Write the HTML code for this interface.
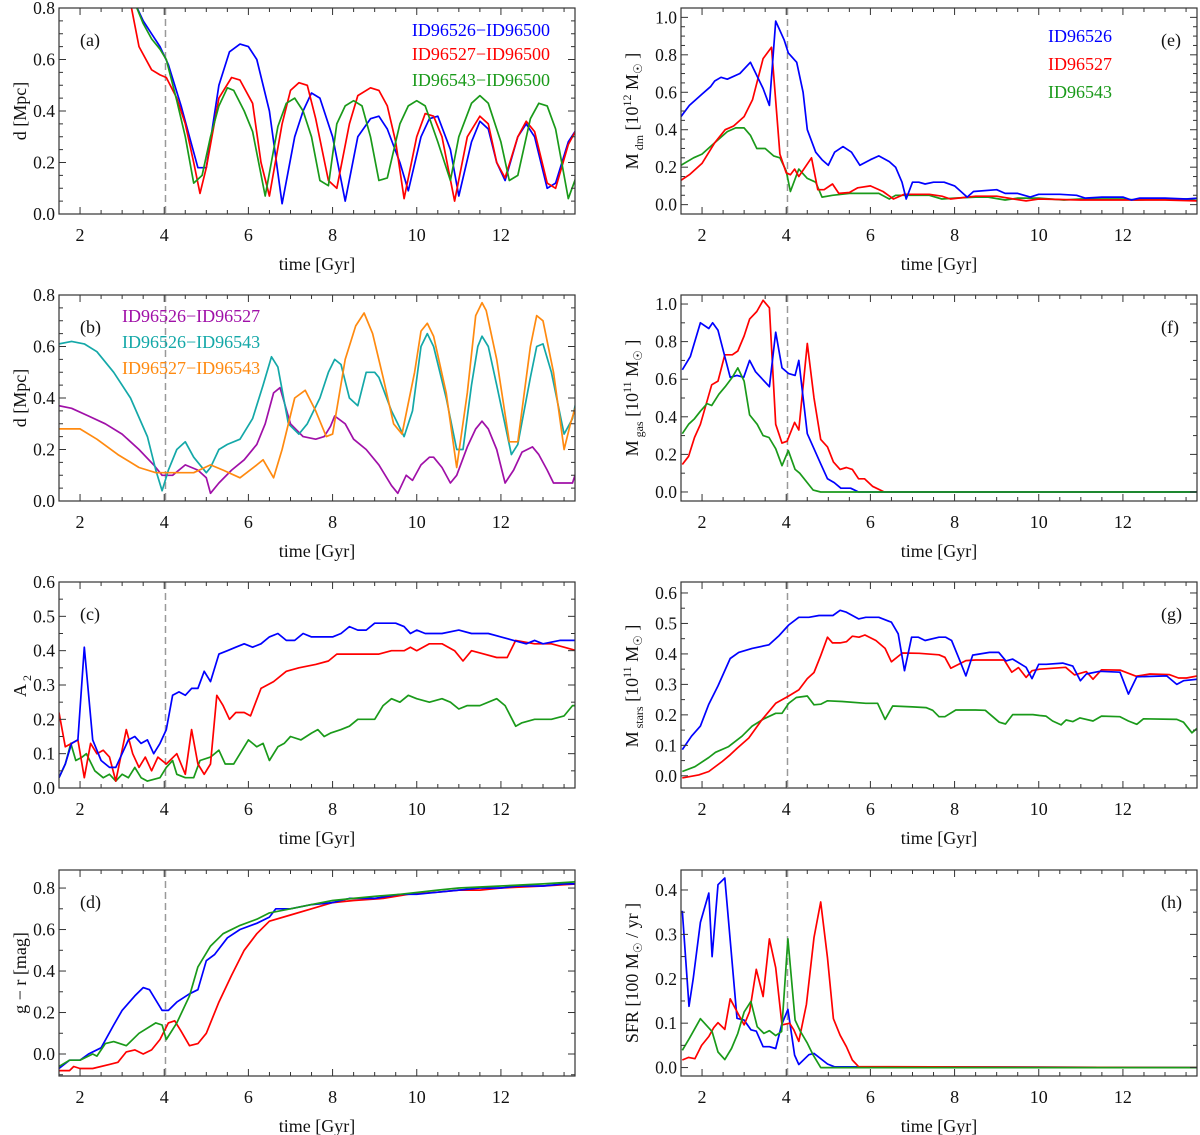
<!DOCTYPE html>
<html><head><meta charset="utf-8"><style>
html,body{margin:0;padding:0;background:#fff}
svg{display:block;font-family:"Liberation Serif",serif}
</style></head><body>
<svg id="fig" width="1200" height="1135" viewBox="0 0 1200 1135" xmlns="http://www.w3.org/2000/svg"></svg>
<script>
// ---- data: [time Gyr, value] ----
const aBlue=[[3.3,0.82],[3.5,0.75],[3.7,0.7],[3.9,0.65],[4.1,0.58],[4.4,0.42],[4.6,0.3],[4.8,0.18],[5.0,0.18],[5.3,0.5],[5.55,0.63],[5.8,0.66],[6.0,0.65],[6.2,0.6],[6.5,0.4],[6.8,0.04],[7.1,0.3],[7.3,0.4],[7.5,0.47],[7.7,0.45],[8.0,0.3],[8.3,0.05],[8.6,0.3],[8.9,0.37],[9.1,0.38],[9.3,0.33],[9.6,0.2],[9.8,0.09],[10.1,0.3],[10.3,0.37],[10.5,0.38],[10.8,0.25],[11.0,0.07],[11.3,0.28],[11.5,0.36],[11.7,0.33],[11.9,0.2],[12.1,0.13],[12.4,0.3],[12.6,0.35],[12.8,0.3],[13.1,0.1],[13.3,0.12],[13.6,0.28],[13.8,0.33]];
const aRed=[[3.2,0.82],[3.4,0.65],[3.7,0.56],[3.9,0.54],[4.05,0.53],[4.3,0.45],[4.5,0.35],[4.7,0.2],[4.85,0.08],[5.0,0.18],[5.3,0.45],[5.6,0.53],[5.8,0.52],[6.1,0.43],[6.3,0.2],[6.5,0.07],[6.8,0.35],[7.0,0.48],[7.2,0.51],[7.4,0.5],[7.6,0.37],[7.9,0.13],[8.1,0.1],[8.4,0.35],[8.6,0.46],[8.9,0.49],[9.1,0.48],[9.3,0.42],[9.5,0.28],[9.7,0.06],[10.0,0.3],[10.2,0.39],[10.4,0.38],[10.6,0.3],[10.9,0.05],[11.2,0.3],[11.5,0.38],[11.7,0.35],[11.9,0.2],[12.1,0.14],[12.4,0.3],[12.6,0.36],[12.8,0.32],[13.1,0.12],[13.3,0.1],[13.6,0.27],[13.8,0.33]];
const aGreen=[[3.3,0.82],[3.5,0.74],[3.7,0.68],[3.9,0.64],[4.05,0.6],[4.3,0.44],[4.5,0.3],[4.7,0.12],[4.9,0.15],[5.1,0.3],[5.3,0.42],[5.5,0.49],[5.65,0.48],[5.9,0.4],[6.1,0.32],[6.4,0.07],[6.7,0.34],[6.9,0.43],[7.1,0.45],[7.3,0.4],[7.5,0.3],[7.7,0.13],[7.9,0.11],[8.1,0.35],[8.3,0.42],[8.5,0.44],[8.7,0.42],[8.9,0.3],[9.1,0.13],[9.3,0.14],[9.6,0.35],[9.8,0.42],[10.0,0.44],[10.2,0.42],[10.5,0.28],[10.8,0.13],[11.0,0.3],[11.3,0.43],[11.5,0.46],[11.7,0.43],[12.0,0.28],[12.2,0.13],[12.4,0.15],[12.7,0.37],[12.9,0.43],[13.1,0.42],[13.3,0.33],[13.6,0.06],[13.8,0.15]];
const bPurple=[[1.5,0.37],[1.8,0.36],[2.2,0.33],[2.6,0.3],[3.0,0.26],[3.4,0.2],[3.75,0.14],[3.95,0.1],[4.2,0.1],[4.5,0.14],[4.8,0.12],[5.0,0.09],[5.1,0.03],[5.3,0.07],[5.6,0.12],[5.9,0.16],[6.2,0.22],[6.4,0.3],[6.6,0.42],[6.75,0.44],[7.0,0.3],[7.3,0.25],[7.6,0.24],[7.8,0.25],[7.95,0.29],[8.05,0.33],[8.3,0.3],[8.5,0.24],[8.8,0.2],[9.1,0.14],[9.4,0.06],[9.55,0.03],[9.75,0.1],[9.9,0.08],[10.1,0.14],[10.3,0.17],[10.4,0.17],[10.6,0.13],[10.8,0.07],[10.95,0.1],[11.2,0.21],[11.4,0.28],[11.55,0.31],[11.7,0.28],[11.9,0.2],[12.1,0.07],[12.3,0.12],[12.5,0.19],[12.75,0.21],[12.9,0.18],[13.1,0.12],[13.25,0.07],[13.45,0.07],[13.7,0.07],[13.8,0.12]];
const bCyan=[[1.5,0.61],[1.8,0.62],[2.1,0.61],[2.4,0.58],[2.8,0.5],[3.2,0.4],[3.6,0.25],[3.8,0.12],[3.95,0.04],[4.1,0.12],[4.3,0.2],[4.5,0.23],[4.7,0.17],[5.0,0.11],[5.1,0.13],[5.3,0.2],[5.5,0.22],[5.8,0.24],[6.1,0.32],[6.35,0.45],[6.55,0.56],[6.7,0.52],[6.95,0.3],[7.2,0.26],[7.4,0.3],[7.7,0.4],[7.9,0.5],[8.05,0.55],[8.2,0.53],[8.4,0.4],[8.6,0.37],[8.8,0.5],[9.0,0.5],[9.1,0.48],[9.4,0.35],[9.7,0.25],[9.9,0.35],[10.1,0.6],[10.25,0.65],[10.4,0.6],[10.7,0.4],[10.95,0.2],[11.1,0.2],[11.3,0.45],[11.45,0.6],[11.55,0.64],[11.7,0.6],[11.9,0.45],[12.25,0.18],[12.4,0.22],[12.7,0.48],[12.85,0.6],[13.0,0.61],[13.2,0.5],[13.5,0.26],[13.7,0.32],[13.8,0.4]];
const bOrange=[[1.5,0.28],[2.0,0.28],[2.4,0.24],[2.9,0.18],[3.4,0.13],[3.8,0.11],[4.5,0.11],[4.7,0.11],[5.1,0.14],[5.4,0.12],[5.8,0.09],[6.2,0.14],[6.35,0.16],[6.6,0.09],[6.8,0.2],[7.1,0.4],[7.35,0.43],[7.6,0.35],[7.85,0.25],[8.0,0.26],[8.3,0.55],[8.55,0.68],[8.75,0.73],[8.95,0.65],[9.2,0.48],[9.45,0.3],[9.65,0.26],[9.95,0.5],[10.1,0.66],[10.25,0.69],[10.4,0.64],[10.7,0.42],[10.95,0.13],[11.2,0.42],[11.4,0.72],[11.55,0.77],[11.65,0.74],[11.9,0.55],[12.2,0.23],[12.4,0.23],[12.7,0.6],[12.85,0.72],[13.0,0.7],[13.25,0.5],[13.5,0.2],[13.65,0.3],[13.8,0.38]];
const cBlue=[[1.5,0.03],[1.65,0.07],[1.8,0.13],[1.95,0.14],[2.1,0.41],[2.3,0.14],[2.5,0.08],[2.7,0.06],[2.85,0.06],[3.0,0.1],[3.15,0.14],[3.3,0.15],[3.45,0.13],[3.6,0.14],[3.75,0.1],[3.9,0.13],[4.05,0.17],[4.2,0.27],[4.35,0.28],[4.5,0.27],[4.65,0.29],[4.8,0.29],[4.95,0.34],[5.1,0.31],[5.3,0.39],[5.5,0.4],[5.7,0.41],[5.9,0.42],[6.1,0.41],[6.3,0.42],[6.5,0.44],[6.7,0.45],[6.9,0.43],[7.1,0.43],[7.3,0.45],[7.5,0.44],[7.8,0.44],[8.0,0.44],[8.2,0.45],[8.4,0.47],[8.6,0.46],[8.8,0.46],[9.0,0.48],[9.2,0.48],[9.5,0.48],[9.7,0.47],[9.85,0.45],[10.0,0.46],[10.2,0.45],[10.6,0.45],[11.0,0.46],[11.3,0.45],[11.7,0.45],[12.0,0.44],[12.3,0.43],[12.6,0.42],[12.8,0.43],[13.0,0.42],[13.4,0.43],[13.8,0.43]];
const cRed=[[1.5,0.22],[1.65,0.12],[1.8,0.13],[1.95,0.14],[2.1,0.03],[2.25,0.13],[2.4,0.1],[2.55,0.11],[2.7,0.09],[2.85,0.02],[3.1,0.17],[3.25,0.1],[3.4,0.06],[3.55,0.09],[3.7,0.05],[3.85,0.09],[4.05,0.07],[4.3,0.1],[4.5,0.04],[4.65,0.17],[4.8,0.07],[4.95,0.04],[5.1,0.07],[5.25,0.27],[5.4,0.24],[5.55,0.2],[5.7,0.22],[5.9,0.22],[6.05,0.21],[6.3,0.29],[6.6,0.31],[6.9,0.34],[7.2,0.35],[7.6,0.36],[7.9,0.37],[8.1,0.39],[8.4,0.39],[8.8,0.39],[9.1,0.39],[9.4,0.4],[9.7,0.4],[9.85,0.41],[10.0,0.4],[10.3,0.42],[10.6,0.42],[10.9,0.4],[11.1,0.37],[11.3,0.4],[11.6,0.39],[11.9,0.38],[12.15,0.38],[12.35,0.43],[12.8,0.42],[13.2,0.42],[13.5,0.41],[13.8,0.4]];
const cGreen=[[1.5,0.03],[1.65,0.07],[1.78,0.13],[1.9,0.08],[2.05,0.09],[2.15,0.1],[2.35,0.05],[2.55,0.03],[2.7,0.04],[2.85,0.02],[3.0,0.04],[3.15,0.03],[3.3,0.06],[3.45,0.03],[3.6,0.02],[3.9,0.03],[4.05,0.06],[4.2,0.08],[4.3,0.04],[4.5,0.03],[4.7,0.03],[4.85,0.08],[5.1,0.09],[5.3,0.11],[5.45,0.07],[5.65,0.07],[5.8,0.1],[6.0,0.14],[6.2,0.12],[6.35,0.13],[6.5,0.08],[6.7,0.12],[6.85,0.13],[7.0,0.15],[7.25,0.14],[7.5,0.16],[7.65,0.17],[7.8,0.15],[7.95,0.16],[8.2,0.17],[8.4,0.18],[8.6,0.2],[9.0,0.2],[9.2,0.24],[9.4,0.26],[9.6,0.25],[9.8,0.27],[10.0,0.26],[10.3,0.25],[10.6,0.26],[10.8,0.25],[11.0,0.23],[11.2,0.24],[11.5,0.24],[11.9,0.26],[12.1,0.24],[12.35,0.18],[12.5,0.19],[12.8,0.2],[13.0,0.2],[13.2,0.2],[13.5,0.21],[13.7,0.24],[13.8,0.24]];
const dBlue=[[1.5,-0.07],[1.75,-0.03],[2.0,-0.03],[2.2,0.0],[2.5,0.03],[2.8,0.14],[3.0,0.21],[3.3,0.28],[3.5,0.32],[3.65,0.31],[3.95,0.21],[4.1,0.21],[4.3,0.25],[4.6,0.29],[4.8,0.31],[5.0,0.45],[5.2,0.48],[5.5,0.56],[5.8,0.6],[6.2,0.63],[6.5,0.66],[6.65,0.7],[7.0,0.7],[7.5,0.72],[8.0,0.73],[8.4,0.75],[9.0,0.75],[9.6,0.77],[10.0,0.77],[10.5,0.78],[11.0,0.79],[11.5,0.8],[12.0,0.8],[12.4,0.81],[13.0,0.81],[13.5,0.82],[13.8,0.82]];
const dRed=[[1.5,-0.08],[1.75,-0.08],[1.85,-0.06],[2.0,-0.07],[2.3,-0.07],[2.7,-0.05],[2.9,-0.04],[3.1,0.01],[3.3,0.02],[3.5,0.0],[3.7,0.02],[3.9,0.07],[4.1,0.15],[4.25,0.16],[4.4,0.11],[4.6,0.04],[4.8,0.05],[5.0,0.1],[5.3,0.25],[5.6,0.38],[5.9,0.5],[6.2,0.58],[6.5,0.64],[7.0,0.67],[7.5,0.7],[8.0,0.73],[8.5,0.74],[9.2,0.75],[9.8,0.77],[10.5,0.78],[11.0,0.79],[11.5,0.79],[12.0,0.8],[13.0,0.81],[13.8,0.82]];
const dGreen=[[1.5,-0.06],[1.75,-0.03],[2.0,-0.03],[2.3,0.0],[2.4,-0.01],[2.6,0.05],[2.8,0.06],[3.1,0.04],[3.4,0.1],[3.8,0.15],[3.95,0.14],[4.05,0.07],[4.3,0.15],[4.6,0.28],[4.8,0.42],[5.1,0.52],[5.4,0.58],[5.8,0.62],[6.2,0.65],[6.5,0.68],[7.0,0.7],[7.5,0.72],[8.0,0.74],[8.5,0.75],[9.0,0.76],[9.6,0.77],[10.5,0.79],[11.0,0.8],[12.0,0.81],[13.0,0.82],[13.8,0.83]];
const eBlue=[[1.5,0.47],[1.7,0.53],[2.0,0.59],[2.2,0.63],[2.3,0.66],[2.45,0.68],[2.6,0.67],[2.9,0.7],[3.15,0.76],[3.45,0.62],[3.6,0.53],[3.75,0.98],[3.95,0.88],[4.05,0.81],[4.25,0.76],[4.4,0.6],[4.5,0.4],[4.7,0.28],[4.85,0.24],[5.0,0.21],[5.15,0.28],[5.35,0.31],[5.55,0.28],[5.75,0.21],[6.0,0.24],[6.2,0.26],[6.45,0.23],[6.6,0.2],[6.75,0.12],[6.85,0.03],[7.0,0.12],[7.15,0.12],[7.3,0.11],[7.5,0.12],[7.75,0.12],[8.0,0.1],[8.3,0.04],[8.45,0.07],[9.0,0.08],[9.2,0.06],[9.5,0.06],[9.8,0.04],[10.0,0.055],[10.5,0.055],[10.9,0.05],[11.1,0.035],[11.5,0.04],[12.0,0.04],[12.2,0.025],[12.4,0.035],[13.0,0.035],[13.5,0.03],[13.8,0.035]];
const eRed=[[1.5,0.13],[1.7,0.16],[2.0,0.22],[2.3,0.33],[2.55,0.4],[2.75,0.42],[3.0,0.47],[3.2,0.56],[3.45,0.78],[3.65,0.84],[3.85,0.27],[4.0,0.17],[4.1,0.16],[4.2,0.19],[4.3,0.15],[4.6,0.25],[4.75,0.08],[4.9,0.08],[5.1,0.11],[5.25,0.06],[5.5,0.065],[5.7,0.09],[6.0,0.1],[6.3,0.07],[6.55,0.03],[6.8,0.055],[7.4,0.055],[7.7,0.045],[7.9,0.03],[8.5,0.045],[9.0,0.045],[9.4,0.03],[9.7,0.02],[10.0,0.03],[11.0,0.025],[12.0,0.025],[13.0,0.025],[13.8,0.02]];
const eGreen=[[1.5,0.21],[1.8,0.25],[2.0,0.27],[2.3,0.33],[2.6,0.39],[2.8,0.41],[3.0,0.41],[3.15,0.37],[3.3,0.3],[3.5,0.3],[3.7,0.26],[3.85,0.25],[4.0,0.18],[4.1,0.07],[4.3,0.19],[4.5,0.14],[4.7,0.12],[4.85,0.04],[5.1,0.05],[5.5,0.06],[6.0,0.06],[6.2,0.06],[6.45,0.03],[6.6,0.05],[7.0,0.05],[7.4,0.05],[7.7,0.03],[8.0,0.035],[8.5,0.04],[8.8,0.04],[9.2,0.025],[9.5,0.035],[10.0,0.035],[10.6,0.025],[11.0,0.03],[11.5,0.03],[12.0,0.03],[12.3,0.025],[13.0,0.03],[13.5,0.03],[13.8,0.02]];
const fBlue=[[1.53,0.65],[1.72,0.72],[1.96,0.9],[2.16,0.87],[2.25,0.9],[2.38,0.86],[2.67,0.61],[2.83,0.62],[2.99,0.61],[3.13,0.7],[3.27,0.64],[3.6,0.56],[3.75,0.85],[3.9,0.66],[4.06,0.63],[4.21,0.62],[4.3,0.7],[4.5,0.31],[4.82,0.15],[4.98,0.07],[5.14,0.05],[5.3,0.02],[5.53,0.02],[5.72,0.0],[6.13,0.0],[6.33,0.0],[13.8,0.0]];
const fRed=[[1.53,0.146],[1.68,0.19],[1.82,0.29],[1.96,0.36],[2.23,0.57],[2.38,0.59],[2.54,0.73],[2.72,0.73],[2.85,0.75],[3.0,0.83],[3.13,0.92],[3.3,0.96],[3.45,1.02],[3.6,0.98],[3.75,0.36],[3.9,0.26],[4.02,0.27],[4.2,0.37],[4.3,0.33],[4.5,0.79],[4.66,0.5],[4.82,0.28],[4.98,0.24],[5.12,0.16],[5.28,0.12],[5.43,0.13],[5.57,0.12],[5.72,0.07],[5.86,0.07],[6.05,0.03],[6.33,0.0],[13.8,0.0]];
const fGreen=[[1.53,0.31],[1.68,0.36],[1.82,0.39],[1.96,0.43],[2.12,0.47],[2.23,0.46],[2.4,0.52],[2.55,0.56],[2.72,0.61],[2.85,0.66],[3.0,0.59],[3.13,0.41],[3.31,0.36],[3.45,0.3],[3.59,0.29],[3.75,0.23],[3.9,0.14],[4.05,0.22],[4.21,0.12],[4.32,0.1],[4.64,0.01],[4.82,0.0],[13.8,0.0]];
const gBlue=[[1.53,0.086],[1.75,0.13],[1.96,0.163],[2.16,0.235],[2.38,0.295],[2.67,0.385],[2.87,0.405],[3.19,0.418],[3.59,0.43],[3.83,0.46],[4.06,0.495],[4.3,0.52],[4.54,0.52],[4.78,0.526],[5.11,0.526],[5.28,0.543],[5.43,0.537],[5.72,0.515],[5.89,0.52],[6.2,0.52],[6.5,0.504],[6.66,0.466],[6.81,0.345],[6.98,0.455],[7.14,0.455],[7.3,0.444],[7.63,0.455],[7.79,0.455],[7.93,0.444],[8.11,0.383],[8.27,0.328],[8.43,0.396],[8.83,0.405],[9.05,0.405],[9.22,0.377],[9.38,0.383],[9.7,0.356],[9.84,0.319],[10.0,0.366],[10.18,0.366],[10.57,0.37],[10.81,0.36],[10.99,0.312],[11.13,0.334],[11.45,0.343],[11.93,0.34],[12.13,0.268],[12.33,0.325],[13.04,0.328],[13.28,0.3],[13.44,0.312],[13.77,0.317]];
const gRed=[[1.53,-0.007],[1.92,0.003],[2.16,0.014],[2.48,0.047],[2.67,0.069],[2.83,0.09],[3.11,0.124],[3.43,0.185],[3.75,0.238],[4.06,0.262],[4.3,0.282],[4.5,0.319],[4.66,0.339],[4.82,0.394],[4.98,0.455],[5.1,0.436],[5.28,0.436],[5.43,0.44],[5.57,0.458],[5.73,0.455],[5.87,0.462],[6.13,0.444],[6.35,0.418],[6.5,0.374],[6.76,0.403],[7.16,0.402],[7.63,0.397],[7.77,0.389],[7.91,0.353],[8.27,0.378],[8.5,0.38],[9.18,0.38],[9.36,0.34],[9.52,0.355],[9.7,0.323],[9.84,0.345],[10.02,0.35],[10.64,0.356],[10.85,0.331],[11.13,0.342],[11.29,0.317],[11.49,0.348],[11.93,0.347],[12.31,0.327],[12.64,0.334],[13.1,0.332],[13.32,0.321],[13.51,0.321],[13.77,0.328]];
const gGreen=[[1.53,0.014],[1.83,0.03],[2.16,0.06],[2.32,0.077],[2.63,0.096],[2.95,0.13],[3.19,0.163],[3.47,0.187],[3.75,0.205],[3.9,0.205],[4.06,0.238],[4.24,0.257],[4.5,0.262],[4.66,0.233],[4.82,0.235],[4.98,0.246],[5.33,0.244],[5.89,0.238],[6.17,0.238],[6.35,0.185],[6.53,0.229],[7.0,0.226],[7.32,0.224],[7.48,0.215],[7.63,0.194],[7.77,0.194],[8.03,0.216],[8.5,0.216],[8.73,0.215],[9.06,0.176],[9.21,0.17],[9.38,0.201],[9.86,0.201],[10.02,0.198],[10.17,0.196],[10.33,0.18],[10.53,0.167],[10.65,0.183],[10.81,0.178],[10.98,0.19],[11.29,0.18],[11.49,0.196],[11.93,0.194],[12.13,0.18],[12.33,0.169],[12.49,0.187],[13.28,0.185],[13.44,0.176],[13.64,0.141],[13.77,0.157]];
const hBlue=[[1.53,0.353],[1.69,0.138],[1.79,0.2],[1.96,0.327],[2.16,0.393],[2.24,0.25],[2.38,0.412],[2.54,0.427],[2.83,0.111],[3.0,0.107],[3.16,0.085],[3.29,0.082],[3.45,0.047],[3.6,0.047],[3.75,0.043],[3.89,0.096],[4.04,0.131],[4.2,0.028],[4.3,0.007],[4.54,0.029],[4.66,0.032],[4.98,0.008],[5.14,0.002],[13.8,0.0]];
const hRed=[[1.53,0.017],[1.68,0.023],[1.83,0.02],[1.99,0.05],[2.16,0.07],[2.28,0.09],[2.38,0.101],[2.54,0.086],[2.67,0.155],[2.83,0.126],[3.0,0.096],[3.13,0.126],[3.29,0.221],[3.45,0.16],[3.6,0.29],[3.75,0.225],[3.9,0.096],[4.08,0.1],[4.18,0.085],[4.3,0.059],[4.48,0.142],[4.66,0.293],[4.82,0.373],[4.98,0.247],[5.12,0.11],[5.28,0.073],[5.43,0.047],[5.57,0.017],[5.72,0.002],[13.8,0.0]];
const hGreen=[[1.53,0.039],[1.7,0.066],[1.96,0.11],[2.24,0.081],[2.38,0.035],[2.54,0.018],[2.7,0.043],[2.85,0.077],[3.0,0.125],[3.16,0.149],[3.31,0.092],[3.47,0.077],[3.6,0.083],[3.75,0.072],[3.89,0.081],[4.04,0.29],[4.21,0.107],[4.34,0.081],[4.5,0.055],[4.64,0.028],[4.82,0.0],[13.8,0.0]];
const xTickLabels=[2,4,6,8,10,12];
const mergerTime=[4.03];

const BLUE='#0000ff',RED='#ff0000',GREEN='#1a9a1a',PURPLE='#a010a8',CYAN='#14a8a8',ORANGE='#ff8a10';
const NS='http://www.w3.org/2000/svg';
const svg=document.getElementById('fig');
function mk(tag,attrs,parent){const e=document.createElementNS(NS,tag);for(const k in attrs)e.setAttribute(k,attrs[k]);(parent||svg).appendChild(e);return e;}

const TMIN=1.5,TMAX=13.76,PW=516,PH=206;
const rowsY=[8,295,582,870];
const panels=[
 {id:'a',col:0,row:0,ymin:0,ymax:0.8,major:0.2,minor:0.05,series:[[aBlue,BLUE,'blue'],[aRed,RED,'red'],[aGreen,GREEN,'green']]},
 {id:'b',col:0,row:1,ymin:0,ymax:0.8,major:0.2,minor:0.05,series:[[bPurple,PURPLE,'purple'],[bCyan,CYAN,'cyan'],[bOrange,ORANGE,'orange']]},
 {id:'c',col:0,row:2,ymin:0,ymax:0.6,major:0.1,minor:0.05,series:[[cGreen,GREEN,'green'],[cRed,RED,'red'],[cBlue,BLUE,'blue']]},
 {id:'d',col:0,row:3,ymin:-0.106,ymax:0.887,major:0.2,minor:0.1,series:[[dRed,RED,'red'],[dBlue,BLUE,'blue'],[dGreen,GREEN,'green']]},
 {id:'e',col:1,row:0,ymin:-0.05,ymax:1.05,major:0.2,minor:0.05,series:[[eGreen,GREEN,'green'],[eRed,RED,'red'],[eBlue,BLUE,'blue']]},
 {id:'f',col:1,row:1,ymin:-0.048,ymax:1.048,major:0.2,minor:0.1,series:[[fRed,RED,'red'],[fBlue,BLUE,'blue'],[fGreen,GREEN,'green']]},
 {id:'g',col:1,row:2,ymin:-0.04,ymax:0.636,major:0.1,minor:0.05,series:[[gGreen,GREEN,'green'],[gRed,RED,'red'],[gBlue,BLUE,'blue']]},
 {id:'h',col:1,row:3,ymin:-0.019,ymax:0.445,major:0.1,minor:0.05,series:[[hBlue,BLUE,'blue'],[hRed,RED,'red'],[hGreen,GREEN,'green']]}
];

panels.forEach(p=>{
  const x0=p.col?681:59, y0=rowsY[p.row];
  const sx=t=>x0+(t-TMIN)/(TMAX-TMIN)*PW;
  const sy=v=>y0+PH-(v-p.ymin)/(p.ymax-p.ymin)*PH;
  const g=mk('g',{});
  
  
  const cp=mk('clipPath',{id:'clip-'+p.id},g);
  mk('rect',{x:x0,y:y0,width:PW,height:PH},cp);
  const dl=mk('line',{x1:sx(mergerTime[0]),x2:sx(mergerTime[0]),y1:y0,y2:y0+PH,stroke:'#999','stroke-width':1.5,'stroke-dasharray':'7,4'},g);
  
  
  p.series.forEach(s=>{
    const pl=mk('polyline',{points:s[0].map(d=>sx(d[0]).toFixed(1)+','+sy(d[1]).toFixed(1)).join(' '),fill:'none',stroke:s[1],'stroke-width':1.7,'stroke-linejoin':'round','clip-path':'url(#clip-'+p.id+')'},g);
    
    
  });
  const fr=mk('rect',{x:x0,y:y0,width:PW,height:PH,fill:'none',stroke:'#333','stroke-width':1.2},g);
  
  
  for(let t=1.5;t<=TMAX+1e-6;t+=0.5){
    const maj=Math.abs(t-Math.round(t/2)*2)<1e-6;
    const L=maj?7:4,X=sx(t);
    mk('line',{x1:X,x2:X,y1:y0+PH,y2:y0+PH-L,stroke:'#333','stroke-width':1},g);
    mk('line',{x1:X,x2:X,y1:y0,y2:y0+L,stroke:'#333','stroke-width':1},g);
  }
  xTickLabels.forEach(t=>{
    const tx=mk('text',{x:sx(t),y:y0+PH+27,'font-size':18,'text-anchor':'middle',fill:'#111'},g);
    tx.textContent=t;
    
    
  });
  const xl=mk('text',{x:x0+258,y:y0+PH+56,'font-size':18,'text-anchor':'middle',fill:'#111'},g);
  xl.textContent='time [Gyr]';
  
  
  const start=Math.ceil(p.ymin/p.minor-1e-6);
  for(let k=start;k*p.minor<=p.ymax+1e-6;k++){
    const v=k*p.minor, r=v/p.major, maj=Math.abs(r-Math.round(r))<1e-6;
    const L=maj?7:4,Y=sy(v);
    mk('line',{x1:x0,x2:x0+L,y1:Y,y2:Y,stroke:'#333','stroke-width':1},g);
    mk('line',{x1:x0+PW,x2:x0+PW-L,y1:Y,y2:Y,stroke:'#333','stroke-width':1},g);
    if(maj && v>=-1e-6){
      const tl=mk('text',{x:x0-4,y:Y+6,'font-size':17.5,'text-anchor':'end',fill:'#111'},g);
      tl.textContent=Math.abs(v).toFixed(1);
      
      
    }
  }
  const tag=mk('text',{x:p.col?x0+480:x0+21,y:y0+38,'font-size':18,fill:'#111'},g);
  tag.textContent='('+p.id+')';
  
  
});

function ylab(cx,cy,name,html){
  const t=mk('text',{x:0,y:0,'font-size':18,'text-anchor':'middle',fill:'#111',transform:'translate('+cx+','+cy+') rotate(-90)'});
  t.innerHTML=html;
  
  
}
ylab(26,111,'y-axis-title-a','d [Mpc]');
ylab(26,398,'y-axis-title-b','d [Mpc]');
ylab(26,686,'y-axis-title-c','A<tspan font-size="12" dy="5"> 2</tspan>');
ylab(26,973,'y-axis-title-d','g − r [mag]');
ylab(638,111,'y-axis-title-e','M<tspan font-size="12" dy="5"> dm</tspan><tspan dy="-5">  [10</tspan><tspan font-size="12" dy="-7">12</tspan><tspan dy="7"> M</tspan><tspan font-size="12" dy="4">☉</tspan><tspan dy="-4"> ]</tspan>');
ylab(638,398,'y-axis-title-f','M<tspan font-size="12" dy="5"> gas</tspan><tspan dy="-5">  [10</tspan><tspan font-size="12" dy="-7">11</tspan><tspan dy="7"> M</tspan><tspan font-size="12" dy="4">☉</tspan><tspan dy="-4"> ]</tspan>');
ylab(638,686,'y-axis-title-g','M<tspan font-size="12" dy="5"> stars</tspan><tspan dy="-5">  [10</tspan><tspan font-size="12" dy="-7">11</tspan><tspan dy="7"> M</tspan><tspan font-size="12" dy="4">☉</tspan><tspan dy="-4"> ]</tspan>');
ylab(638,973,'y-axis-title-h','SFR [100 M<tspan font-size="12" dy="4">☉</tspan><tspan dy="-4"> / yr ]</tspan>');

function leg(x,y,col,txt,anchor,name){
  const t=mk('text',{x:x,y:y,'font-size':18,fill:col,'text-anchor':anchor||'start'});
  t.textContent=txt;
  
  
}
leg(550,36,BLUE,'ID96526−ID96500','end','legend-entry-a-blue');
leg(550,60,RED,'ID96527−ID96500','end','legend-entry-a-red');
leg(550,86,GREEN,'ID96543−ID96500','end','legend-entry-a-green');
leg(122,322,PURPLE,'ID96526−ID96527','start','legend-entry-b-purple');
leg(122,348,CYAN,'ID96526−ID96543','start','legend-entry-b-cyan');
leg(122,374,ORANGE,'ID96527−ID96543','start','legend-entry-b-orange');
leg(1048,42,BLUE,'ID96526','start','legend-entry-e-blue');
leg(1048,70,RED,'ID96527','start','legend-entry-e-red');
leg(1048,98,GREEN,'ID96543','start','legend-entry-e-green');
</script>
</body></html>
